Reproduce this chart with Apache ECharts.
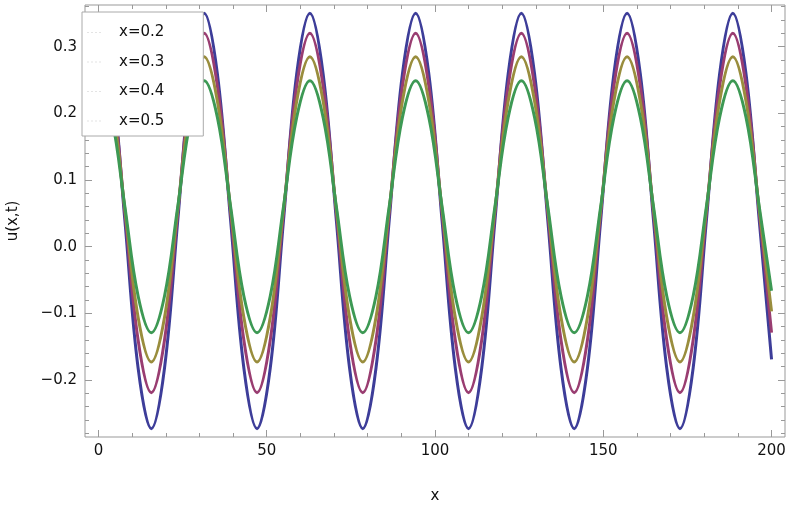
<!DOCTYPE html>
<html>
<head>
<meta charset="utf-8">
<script src="https://cdn.jsdelivr.net/npm/echarts@6/dist/echarts.min.js"></script>
<style>
  html, body { margin: 0; padding: 0; background: #fff; }
  #chart { width: 792px; height: 507px; }
</style>
</head>
<body>
<div id="chart"></div>
<script>
// sample positions along x (every 1/8 of a period) and read-off values
var xs = [0, 3.93, 7.85, 11.78, 15.71, 19.63, 23.56, 27.49, 31.42, 35.34, 39.27, 43.20, 47.12, 51.05, 54.98, 58.90,
  62.83, 66.76, 70.69, 74.61, 78.54, 82.47, 86.39, 90.32, 94.25, 98.17, 102.10, 106.03, 109.96, 113.88, 117.81, 121.74,
  125.66, 129.59, 133.52, 137.44, 141.37, 145.30, 149.23, 153.15, 157.08, 161.01, 164.93, 168.86, 172.79, 176.71, 180.64, 184.57,
  188.50, 192.42, 196.35, 200];

var u02 = [0.350, 0.259, 0.039, -0.182, -0.273, -0.182, 0.039, 0.259,
  0.350, 0.259, 0.039, -0.182, -0.273, -0.182, 0.039, 0.259,
  0.350, 0.259, 0.039, -0.182, -0.273, -0.182, 0.039, 0.259,
  0.350, 0.259, 0.039, -0.182, -0.273, -0.182, 0.039, 0.259,
  0.350, 0.259, 0.039, -0.182, -0.273, -0.182, 0.039, 0.259,
  0.350, 0.259, 0.039, -0.182, -0.273, -0.182, 0.039, 0.259,
  0.350, 0.259, 0.039, -0.169];
var u03 = [0.320, 0.241, 0.051, -0.140, -0.219, -0.140, 0.051, 0.241,
  0.320, 0.241, 0.051, -0.140, -0.219, -0.140, 0.051, 0.241,
  0.320, 0.241, 0.051, -0.140, -0.219, -0.140, 0.051, 0.241,
  0.320, 0.241, 0.051, -0.140, -0.219, -0.140, 0.051, 0.241,
  0.320, 0.241, 0.051, -0.140, -0.219, -0.140, 0.051, 0.241,
  0.320, 0.241, 0.051, -0.140, -0.219, -0.140, 0.051, 0.241,
  0.320, 0.241, 0.051, -0.129];
var u04 = [0.285, 0.218, 0.056, -0.106, -0.173, -0.106, 0.056, 0.218,
  0.285, 0.218, 0.056, -0.106, -0.173, -0.106, 0.056, 0.218,
  0.285, 0.218, 0.056, -0.106, -0.173, -0.106, 0.056, 0.218,
  0.285, 0.218, 0.056, -0.106, -0.173, -0.106, 0.056, 0.218,
  0.285, 0.218, 0.056, -0.106, -0.173, -0.106, 0.056, 0.218,
  0.285, 0.218, 0.056, -0.106, -0.173, -0.106, 0.056, 0.218,
  0.285, 0.218, 0.056, -0.097];
var u05 = [0.249, 0.194, 0.060, -0.074, -0.129, -0.074, 0.060, 0.194,
  0.249, 0.194, 0.060, -0.074, -0.129, -0.074, 0.060, 0.194,
  0.249, 0.194, 0.060, -0.074, -0.129, -0.074, 0.060, 0.194,
  0.249, 0.194, 0.060, -0.074, -0.129, -0.074, 0.060, 0.194,
  0.249, 0.194, 0.060, -0.074, -0.129, -0.074, 0.060, 0.194,
  0.249, 0.194, 0.060, -0.074, -0.129, -0.074, 0.060, 0.194,
  0.249, 0.194, 0.060, -0.066];

var names = ['x=0.2', 'x=0.3', 'x=0.4', 'x=0.5'];
var colors = ['#3d3d99', '#993d71', '#998d3d', '#3d9954'];

var xMajor = [0, 50, 100, 150, 200];
var xMinor = [10, 20, 30, 40, 60, 70, 80, 90, 110, 120, 130, 140, 160, 170, 180, 190];
var yMajor = [-0.2, -0.1, 0, 0.1, 0.2, 0.3];
var yMinor = [-0.28, -0.26, -0.24, -0.22, -0.18, -0.16, -0.14, -0.12, -0.08, -0.06, -0.04, -0.02,
  0.02, 0.04, 0.06, 0.08, 0.12, 0.14, 0.16, 0.18, 0.22, 0.24, 0.26, 0.28, 0.32, 0.34, 0.36];

var font = 'DejaVu Sans';
var tickColor = '#999';

function pairs(vals) {
  var out = [];
  for (var i = 0; i < xs.length; i++) out.push([xs[i], vals[i]]);
  return out;
}

function xAx(pos, ticks, len, labels) {
  return {
    type: 'value', min: -4, max: 204, position: pos,
    axisLine: {show: false, onZero: false}, splitLine: {show: false},
    axisTick: {show: true, inside: true, length: len, customValues: ticks, lineStyle: {color: tickColor}},
    axisLabel: labels ? {show: true, customValues: ticks, margin: 7, fontFamily: font, fontSize: 15, color: '#111'} : {show: false}
  };
}
function yAx(pos, ticks, len, labels) {
  return {
    type: 'value', min: -0.2855, max: 0.3625, position: pos,
    axisLine: {show: false, onZero: false}, splitLine: {show: false},
    axisTick: {show: true, inside: true, length: len, customValues: ticks, lineStyle: {color: tickColor}},
    axisLabel: labels ? {
      show: true, customValues: ticks, margin: 8, fontFamily: font, fontSize: 15, color: '#111',
      formatter: function (v) { return (v < -1e-9 ? '\u2212' : '') + Math.abs(v).toFixed(1); }
    } : {show: false}
  };
}

var xAxes = [xAx('bottom', xMajor, 7, true), xAx('bottom', xMinor, 4, false), xAx('top', xMajor, 7, false), xAx('top', xMinor, 4, false)];
xAxes[0].name = 'x';
xAxes[0].nameLocation = 'middle';
xAxes[0].nameGap = 52;
xAxes[0].nameTextStyle = {fontFamily: font, fontSize: 15, color: '#111'};

var yAxes = [yAx('left', yMajor, 7, true), yAx('left', yMinor, 4, false), yAx('right', yMajor, 7, false), yAx('right', yMinor, 4, false)];
yAxes[0].name = 'u(x,t)';
yAxes[0].nameLocation = 'middle';
yAxes[0].nameGap = 64;
yAxes[0].nameRotate = 90;
yAxes[0].nameTextStyle = {fontFamily: font, fontSize: 15, color: '#111'};

var allVals = [u02, u03, u04, u05];
var series = [];
for (var s = 0; s < allVals.length; s++) {
  series.push({
    name: names[s], type: 'line', symbol: 'none', smooth: 0.37,
    xAxisIndex: 0, yAxisIndex: 0,
    lineStyle: {color: colors[s], width: 3},
    itemStyle: {color: colors[s]},
    data: pairs(allVals[s])
  });
}

var myChart = echarts.init(document.getElementById('chart'), null, {renderer: 'canvas'});
myChart.setOption({
  animation: false,
  color: colors,
  grid: {left: 85, right: 7, top: 5, bottom: 70, containLabel: false, outerBoundsMode: 'none',
    show: true, borderColor: '#999', borderWidth: 1, backgroundColor: 'transparent'},
  legend: {
    orient: 'vertical', left: 82, top: 12, z: 10,
    backgroundColor: '#fff', borderColor: '#aaa', borderWidth: 1,
    padding: [13, 39, 7.5, 5], itemWidth: 14, itemHeight: 1, itemGap: 14.5,
    icon: 'path://M0,0h2v1h-2z M4,0h2v1h-2z M8,0h2v1h-2z M12,0h2v1h-2z',
    itemStyle: {color: '#e4e4e4', borderWidth: 0},
    textStyle: {fontFamily: font, fontSize: 15, lineHeight: 15, color: '#111', padding: [0, 0, 0, 13]},
    data: names
  },
  xAxis: xAxes,
  yAxis: yAxes,
  series: series
});
</script>
</body>
</html>
